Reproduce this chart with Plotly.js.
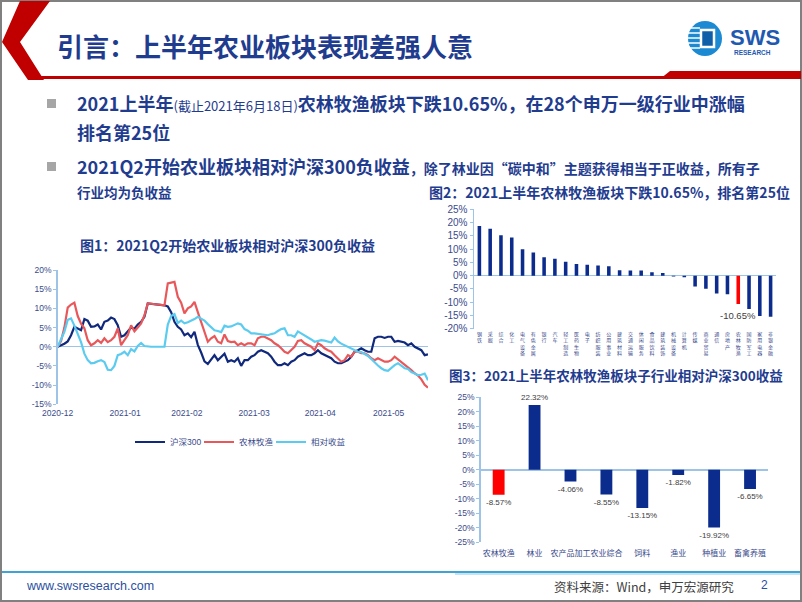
<!DOCTYPE html>
<html><head><meta charset="utf-8">
<script src="https://cdn.plot.ly/plotly-3.0.1.min.js"></script>
<style>html,body{margin:0;padding:0;background:#fff;}#chart{width:802px;height:602px;}</style>
</head><body><div id="chart"></div>
<script>
// ---------- DATA ----------
// Figure 1: cumulative returns (%), trading days from 2020-12 to mid-2021
const hs300 = [0,0.3,0.8,1.4,3.0,5.2,4.8,4.3,7.2,6.8,
  5.2,5.3,5.8,4.5,6.5,6.8,7.6,7.2,5.6,2.6,
  3.0,3.9,5.0,4.7,5.8,6.5,7.8,11.3,11.2,11.1,
  11.0,10.9,10.8,10.5,9.0,6.5,5.2,4.5,3.0,3.5,
  2.5,3.9,0.5,-1.5,-3.8,-4.5,-3.2,-2.2,-3.5,-2.5,
  -1.8,-3.9,-3.5,-3.9,-3.0,-5.0,-3.5,-3.5,-2.6,-2.2,
  -1.3,-0.9,-1.3,-1.7,-2.6,-3.9,-4.8,-4.8,-4.3,-4.8,
  -3.9,-3.5,-2.6,-2.2,-1.7,-2.2,-2.2,-1.7,-0.9,-1.7,
  -2.2,-2.6,-3.0,-3.9,-4.3,-4.3,-3.9,-3.5,-2.6,-1.3,
  -0.9,-0.4,-0.9,-1.3,-1.3,2.2,2.6,2.6,2.3,2.6,
  2.6,1.3,1.5,1.3,1.1,0.4,0.9,0,-0.4,-0.9,
  -2.2,-2.0];
const agri = [0,1.5,5.0,10.2,11.0,11.5,8.0,6.0,4.8,1.7,
  0.4,0.9,1.7,1.0,2.2,1.2,1.7,2.6,4.8,0.4,
  1.7,3.0,5.6,4.0,5.0,6.1,8.2,11.3,11.2,11.1,
  11.0,10.9,10.8,16.5,16.7,16.9,13.0,11.5,8.7,10.0,
  10.5,11.7,9.0,6.5,3.5,1.3,2.2,2.8,1.3,0.9,
  3.2,1.5,1.2,1.3,0.4,0.9,0.4,0.9,0.9,0.4,
  2.2,2.6,2.6,2.2,1.7,0.9,0.4,-0.4,-1.3,-1.7,
  -0.9,0,1.5,1.7,0.9,0.4,0,-0.9,0.9,0.4,
  -0.4,-0.9,-1.3,-2.2,-3.0,-3.9,-3.5,-2.2,-2.6,-1.3,
  -1.3,-1.7,-1.7,-2.2,-3.0,-3.5,-3.0,-3.5,-3.9,-3.9,
  -3.5,-2.6,-3.3,-3.9,-4.5,-5.3,-6.1,-6.9,-7.5,-8.5,
  -9.9,-10.65];
const relative = [0,2.0,3.9,7.0,7.4,5.5,3.3,1.2,-1.8,-3.5,
  -4.3,-4.2,-3.8,-3.5,-4.0,-6.0,-6.1,-5.0,-2.2,-1.9,
  -1.3,-2.2,-0.6,-1.2,0.2,1.0,0.2,0,0,0,
  0,0,0,5.8,8.0,8.5,6.2,6.8,6.1,6.4,
  6.7,7.2,7.8,7.3,6.8,5.9,5.2,4.3,4.1,3.8,
  5.5,5.2,5.3,5.6,6.1,5.8,4.6,4.2,3.5,3.5,
  3.4,3.3,3.2,3.0,3.3,3.5,4.1,4.6,4.8,3.0,
  3.0,2.6,4.0,3.5,3.0,2.6,1.9,1.3,1.6,1.7,
  1.6,1.4,1.1,2.4,1.4,0.8,0.4,0,-0.3,-0.9,
  -1.3,-1.4,-1.8,-2.4,-3.2,-4.1,-4.9,-5.6,-6.1,-6.3,
  -5.5,-4.8,-4.3,-4.9,-5.6,-5.8,-6.6,-7.0,-7.4,-7.3,
  -7.0,-8.7];
const seriesNames = ['沪深300','农林牧渔','相对收益'];
const monthLabels = ['2020-12','2021-01','2021-02','2021-03','2021-04','2021-05'];
const monthPos = [0, 20.2, 38.7, 58.9, 78.7, 99.2];   // trading-day index of each month label
const fig1Ticks = [-15,-10,-5,0,5,10,15,20];

// Figure 2: 28 Shenwan level-1 industries, 2021 H1 return (%)
const industries = ['钢铁','采掘','综合','化工','电气设备','有色金属','银行','汽车','轻工制造','医药生物',
  '电子','纺织服装','公用事业','建筑材料','交通运输','休闲服务','食品饮料','建筑装饰','机械设备','计算机',
  '传媒','商业贸易','通信','房地产','农林牧渔','国防军工','家用电器','非银金融'];
const industryReturns = [18.7,17.7,15.2,14.4,9.9,8.7,6.9,6.4,5.2,4.4,
  4.1,3.8,3.5,2.0,1.9,1.9,1.3,1.0,-0.3,-0.6,
  -4.1,-4.9,-6.7,-7.0,-10.65,-12.6,-15.2,-15.5];
const fig2Ticks = [-20,-15,-10,-5,0,5,10,15,20,25];

// Figure 3: sub-industries, return relative to CSI 300 (%)
const subIndustries = ['农林牧渔','林业','农产品加工','农业综合','饲料','渔业','种植业','畜禽养殖'];
const subReturns = [-8.57,22.32,-4.06,-8.55,-13.15,-1.82,-19.92,-6.65];
const fig3Ticks = [-25,-20,-15,-10,-5,0,5,10,15,20,25];
const highlight = '农林牧渔';

// ---------- STYLE ----------
const W = 802, H = 602;
const X = p => p / W;
const Y = p => 1 - p / H;
const CJK = '"Noto Sans CJK SC", "Noto Sans", sans-serif';
const SANS = '"Liberation Sans", Arial, "Noto Sans CJK SC", sans-serif';
const navy = '#10297c', red = '#e8585a', cyan = '#5ccbf0';
const axisBlue = '#9dc3e6', tickCol = '#3b4b8c', titleBlue = '#1f3c8f';
const barNavy = '#0b2c8c', barRed = '#ff0000', labelGray = '#404040';
const pct = v => v + '%';

const dayIndex = hs300.map((_, i) => i);

const traces = [
  {type:'scatter', mode:'lines', x: dayIndex, y: hs300, name: seriesNames[0], legend:'legend',
   line:{color: navy, width: 2.2}, xaxis:'x', yaxis:'y'},
  {type:'scatter', mode:'lines', x: dayIndex, y: agri, name: seriesNames[1], legend:'legend2',
   line:{color: red, width: 2.2}, xaxis:'x', yaxis:'y'},
  {type:'scatter', mode:'lines', x: dayIndex, y: relative, name: seriesNames[2], legend:'legend3',
   line:{color: cyan, width: 2.2}, xaxis:'x', yaxis:'y'},
  {type:'bar', x: industries, y: industryReturns, showlegend:false,
   marker:{color: industries.map(c => c === highlight ? barRed : barNavy)},
   xaxis:'x2', yaxis:'y2', hoverinfo:'skip'},
  {type:'bar', x: subIndustries, y: subReturns, showlegend:false,
   marker:{color: subIndustries.map(c => c === highlight ? barRed : barNavy)},
   text: subReturns.map(v => v.toFixed(2) + '%'), textposition:'outside',
   constraintext:'none', cliponaxis:false,
   textfont:{family: SANS, size: 8, color: labelGray},
   xaxis:'x3', yaxis:'y3', hoverinfo:'skip'}
];

const tickFont = s => ({family: SANS, size: s, color: tickCol});
const yBase = {showgrid:false, zeroline:true, zerolinecolor: axisBlue, zerolinewidth:1.5,
  showline:true, linecolor: axisBlue, linewidth:1.5, ticks:'outside', ticklen:3,
  tickcolor: axisBlue, tickmode:'array', fixedrange:true};
const legendAt = px => ({orientation:'h', x: X(px), y: Y(442), xanchor:'left', yanchor:'middle',
  font:{family: SANS, size: 8.5, color: tickCol}, bgcolor:'rgba(0,0,0,0)', itemclick:false});

const hi = industryReturns[industries.indexOf(highlight)];

const layout = {
  width: W, height: H, margin:{l:0,r:0,t:0,b:0},
  paper_bgcolor:'#ffffff', plot_bgcolor:'rgba(0,0,0,0)',
  bargap: 0.67,
  showlegend: true,
  legend: legendAt(130),
  legend2: legendAt(199),
  legend3: legendAt(271),
  xaxis:{domain:[X(57.7), X(428)], range:[0,111], anchor:'y', showgrid:false, zeroline:false,
    showline:false, tickmode:'array', tickvals: monthPos, ticktext: monthLabels, ticks:'',
    tickangle:0, tickfont: tickFont(8.5), ticklabelstandoff: 2, fixedrange:true},
  yaxis: Object.assign({}, yBase, {domain:[Y(404.3), Y(270)], range:[-15,20], anchor:'x',
    tickvals: fig1Ticks, ticktext: fig1Ticks.map(pct), tickfont: tickFont(8.5)}),
  xaxis2:{domain:[X(474), X(776)], anchor:'y2', type:'category', range:[-0.5,27.5],
    tickmode:'array', tickvals: industries, ticktext: industries.map(s => s.split('').join('<br>')),
    tickangle:0, tickfont:{family: CJK, size: 5, color: tickCol}, ticks:'', showline:false, showgrid:false,
    zeroline:false, ticklabelstandoff: 1, fixedrange:true},
  yaxis2: Object.assign({}, yBase, {domain:[Y(328.7), Y(209.3)], range:[-20,25], anchor:'x2',
    tickvals: fig2Ticks, ticktext: fig2Ticks.map(pct), tickfont: tickFont(10)}),
  xaxis3:{domain:[X(480.7), X(768)], anchor:'y3', type:'category', range:[-0.5,7.5],
    tickangle:0, tickfont:{family: CJK, size: 8, color: tickCol}, ticks:'', showline:false, showgrid:false,
    zeroline:false, ticklabelstandoff: 5, fixedrange:true},
  yaxis3: Object.assign({}, yBase, {domain:[Y(542.3), Y(397.3)], range:[-25,25], anchor:'x3',
    tickvals: fig3Ticks, ticktext: fig3Ticks.map(pct), tickfont: tickFont(8.5)}),
  annotations: [
    {text:'<b>引言：上半年农业板块表现差强人意</b>', x:X(55), y:Y(46), xref:'paper', yref:'paper',
     xanchor:'left', yanchor:'middle', showarrow:false, font:{family:CJK, size:26, color:titleBlue}},
    {text:'<b>2021上半年</b><span style="font-size:13px">(截止2021年6月18日)</span><b>农林牧渔板块下跌10.65%，在28个申万一级行业中涨幅</b>',
     x:X(75), y:Y(103), xref:'paper', yref:'paper', xanchor:'left', yanchor:'middle', showarrow:false,
     font:{family:CJK, size:18, color:titleBlue}},
    {text:'<b>排名第25位</b>', x:X(75), y:Y(132), xref:'paper', yref:'paper', xanchor:'left', yanchor:'middle',
     showarrow:false, font:{family:CJK, size:18, color:titleBlue}},
    {text:'<b>2021Q2开始农业板块相对沪深300负收益</b><b><span style="font-size:14px">，除了林业因“碳中和”主题获得相当于正收益，所有子</span></b>',
     x:X(75), y:Y(166), xref:'paper', yref:'paper', xanchor:'left', yanchor:'middle', showarrow:false,
     font:{family:CJK, size:18, color:titleBlue}},
    {text:'<b>行业均为负收益</b>', x:X(75), y:Y(192), xref:'paper', yref:'paper', xanchor:'left', yanchor:'middle',
     showarrow:false, font:{family:CJK, size:13.5, color:titleBlue}},
    {text:'<b>图1：2021Q2开始农业板块相对沪深300负收益</b>', x:X(227), y:Y(245), xref:'paper', yref:'paper',
     xanchor:'center', yanchor:'middle', showarrow:false, font:{family:CJK, size:14, color:titleBlue}},
    {text:'<b>图2：2021上半年农林牧渔板块下跌10.65%，排名第25位</b>', x:X(609), y:Y(192), xref:'paper', yref:'paper',
     xanchor:'center', yanchor:'middle', showarrow:false, font:{family:CJK, size:14, color:titleBlue}},
    {text:'<b>图3：2021上半年农林牧渔板块子行业相对沪深300收益</b>', x:X(616), y:Y(375), xref:'paper', yref:'paper',
     xanchor:'center', yanchor:'middle', showarrow:false, font:{family:CJK, size:13.5, color:titleBlue}},
    {text: hi.toFixed(2) + '%', x: highlight, y: hi, xref:'x2', yref:'y2', xanchor:'center', yanchor:'top',
     yshift:-4, showarrow:false, font:{family:SANS, size:9.5, color:labelGray}},
    {text:'www.swsresearch.com', x:X(24), y:Y(586), xref:'paper', yref:'paper', xanchor:'left', yanchor:'middle',
     showarrow:false, font:{family:SANS, size:12.5, color:'#2b4fa0'}},
    {text:'资料来源：Wind，申万宏源研究', x:X(736), y:Y(586), xref:'paper', yref:'paper', xanchor:'right', yanchor:'middle',
     showarrow:false, font:{family:CJK, size:12.5, color:labelGray}},
    {text:'2', x:X(764), y:Y(585), xref:'paper', yref:'paper', xanchor:'center', yanchor:'middle',
     showarrow:false, font:{family:SANS, size:12, color:'#2b4fa0'}},
    {text:'<b>SWS</b>', x:X(755), y:Y(37), xref:'paper', yref:'paper', xanchor:'center', yanchor:'middle',
     showarrow:false, font:{family:SANS, size:22, color:'#1f5ab0'}},
    {text:'<b>RESEARCH</b>', x:X(752), y:Y(53), xref:'paper', yref:'paper', xanchor:'center', yanchor:'middle',
     showarrow:false, font:{family:SANS, size:6.5, color:'#1f5ab0'}}
  ],
  shapes: [
    // slide border
    {type:'rect', xref:'paper', yref:'paper', x0:X(1), x1:X(801), y0:Y(601), y1:Y(1), line:{color:'#808080', width:2}},
    // red chevron
    {type:'path', xref:'paper', yref:'paper', fillcolor:'#c00000', line:{width:0},
     path:`M ${X(20)} ${Y(1)} L ${X(50)} ${Y(1)} L ${X(20)} ${Y(42)} L ${X(44)} ${Y(80)} L ${X(28)} ${Y(80)} L ${X(2)} ${Y(42)} Z`},
    // red underline (thin left part, thick slanted right part)
    {type:'rect', xref:'paper', yref:'paper', x0:X(30), x1:X(668), y0:Y(79), y1:Y(76), fillcolor:'#c00000', line:{width:0}},
    {type:'path', xref:'paper', yref:'paper', fillcolor:'#c00000', line:{width:0},
     path:`M ${X(660)} ${Y(79)} L ${X(670)} ${Y(71)} L ${X(801)} ${Y(71)} L ${X(801)} ${Y(79)} Z`},
    // bullets
    {type:'rect', xref:'paper', yref:'paper', x0:X(47), x1:X(56), y0:Y(108), y1:Y(99), fillcolor:'#a6a6a6', line:{width:0}},
    {type:'rect', xref:'paper', yref:'paper', x0:X(47), x1:X(56), y0:Y(171), y1:Y(162), fillcolor:'#a6a6a6', line:{width:0}},
    // footer lines
    {type:'line', xref:'paper', yref:'paper', x0:X(2), x1:X(800), y0:Y(572), y1:Y(572), line:{color:'#3fa3d3', width:2}},
    {type:'line', xref:'paper', yref:'paper', x0:X(455), x1:X(800), y0:Y(574), y1:Y(574), line:{color:'#c5e3f3', width:2}},
    // logo
    {type:'circle', xref:'paper', yref:'paper', x0:X(688), x1:X(722), y0:Y(56), y1:Y(21), fillcolor:'#1b8ad3', line:{width:0}},
    {type:'line', xref:'paper', yref:'paper', x0:X(690), x1:X(700), y0:Y(28), y1:Y(28), line:{color:'#ffffff', width:1.5}},
    {type:'line', xref:'paper', yref:'paper', x0:X(688), x1:X(700), y0:Y(33), y1:Y(33), line:{color:'#ffffff', width:1.5}},
    {type:'line', xref:'paper', yref:'paper', x0:X(688), x1:X(700), y0:Y(38), y1:Y(38), line:{color:'#ffffff', width:1.5}},
    {type:'line', xref:'paper', yref:'paper', x0:X(688), x1:X(700), y0:Y(43), y1:Y(43), line:{color:'#ffffff', width:1.5}},
    {type:'line', xref:'paper', yref:'paper', x0:X(690), x1:X(700), y0:Y(48), y1:Y(48), line:{color:'#ffffff', width:1.5}},
    {type:'rect', xref:'paper', yref:'paper', x0:X(701), x1:X(714), y0:Y(47), y1:Y(30), fillcolor:'#0f5fa8', line:{color:'#ffffff', width:2.5}}
  ]
};

Plotly.newPlot('chart', traces, layout, {displayModeBar:false, staticPlot:true});
</script>
</body></html>
